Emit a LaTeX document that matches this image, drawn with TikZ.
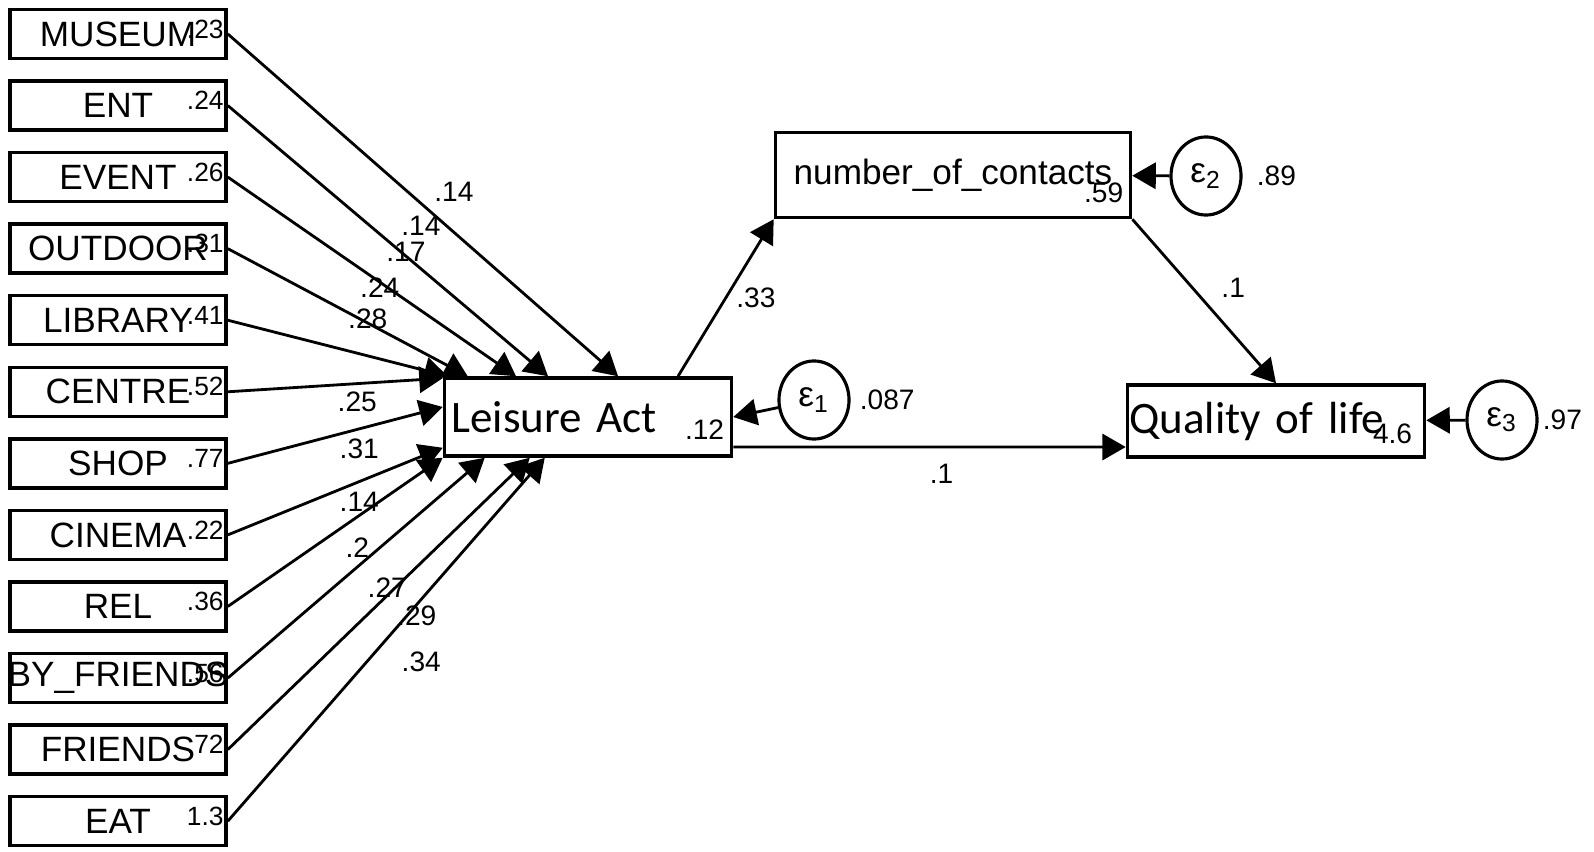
\documentclass[tikz,border=0pt]{standalone}
\usepackage{fontspec}
\setmainfont{Liberation Sans}
\newfontfamily\calfont{Carlito}
\usetikzlibrary{arrows,positioning,shapes.geometric}

\begin{document}
\begin{tikzpicture}[x=0.01cm,y=-0.01cm,>=triangle 60,node distance=0.19cm,
    obs/.style={draw,line width=1pt,rectangle,minimum width=2.16cm,minimum height=0.49cm,
                inner xsep=0pt,inner ysep=0pt,font=\fontsize{10}{12}\selectfont},
    lat/.style={draw,line width=1pt,rectangle,inner ysep=0pt,align=left,
                font=\calfont\fontsize{12.8}{14}\selectfont},
    err/.style={draw,line width=0.9pt,ellipse,minimum width=0.70cm,minimum height=0.78cm,
                inner sep=0pt,font=\fontsize{10}{12}\selectfont},
    numlab/.style={inner sep=1pt,font=\fontsize{7.5}{8}\selectfont},
    vlab/.style={inner sep=1pt,font=\fontsize{8}{9}\selectfont},
    wlab/.style={inner sep=1pt,font=\fontsize{8}{9}\selectfont,pos=0.5},
    conn/.style={->,line width=0.8pt}]

\useasboundingbox (0,0) rectangle (1594,852);

% observed leisure items
\node[obs] (museum) at (118,34) {MUSEUM};
\node[obs,below=of museum] (ent) {ENT};
\node[obs,below=of ent] (event) {EVENT};
\node[obs,below=of event] (outdoor) {OUTDOOR};
\node[obs,below=of outdoor] (library) {LIBRARY};
\node[obs,below=of library] (centre) {CENTRE};
\node[obs,below=of centre] (shop) {SHOP};
\node[obs,below=of shop] (cinema) {CINEMA};
\node[obs,below=of cinema] (rel) {REL};
\node[obs,below=of rel,inner xsep=-0.05cm] (byfriends) {BY\_FRIENDS};
\node[obs,below=of byfriends] (friends) {FRIENDS};
\node[obs,below=of friends] (eat) {EAT};

\node[numlab,anchor=east] (museumv) at ([yshift=0.05cm]museum.east) {.23};
\node[numlab,anchor=east] (entv) at ([yshift=0.05cm]ent.east) {.24};
\node[numlab,anchor=east] (eventv) at ([yshift=0.05cm]event.east) {.26};
\node[numlab,anchor=east] (outdoorv) at ([yshift=0.05cm]outdoor.east) {.31};
\node[numlab,anchor=east] (libraryv) at ([yshift=0.05cm]library.east) {.41};
\node[numlab,anchor=east] (centrev) at ([yshift=0.05cm]centre.east) {.52};
\node[numlab,anchor=east] (shopv) at ([yshift=0.05cm]shop.east) {.77};
\node[numlab,anchor=east] (cinemav) at ([yshift=0.05cm]cinema.east) {.22};
\node[numlab,anchor=east] (relv) at ([yshift=0.05cm]rel.east) {.36};
\node[numlab,anchor=east] (byfriendsv) at ([yshift=0.05cm]byfriends.east) {.56};
\node[numlab,anchor=east] (friendsv) at ([yshift=0.05cm]friends.east) {.72};
\node[numlab,anchor=east] (eatv) at ([yshift=0.05cm]eat.east) {1.3};

% latent part
\node[lat,text width=2.73cm,inner xsep=0.07cm,minimum height=0.78cm] (leis) at (588,417) {Leisure Act};
\node[vlab,anchor=east] (leisv) at ([xshift=-0.05cm,yshift=-0.13cm]leis.east) {.12};
\node[draw,line width=1pt,minimum width=3.55cm,minimum height=0.85cm,font=\fontsize{10}{12}\selectfont] (nc) at (953,175) {number\_of\_contacts};
\node[vlab,anchor=east] (ncv) at ([xshift=-0.05cm,yshift=-0.18cm]nc.east) {.59};
\node[lat,text width=2.93cm,inner xsep=0.02cm,minimum height=0.72cm] (qol) at (1276,421) {Quality of life};
\node[vlab,anchor=east] (qolv) at ([xshift=-0.1cm,yshift=-0.13cm]qol.east) {4.6};

\node[err] (e1) at (814,400) {ε\textsubscript{1}};
\node[err] (e2) at (1206,176) {ε\textsubscript{2}};
\node[err] (e3) at (1502,420) {ε\textsubscript{3}};
\node[vlab,right=0.05cm of e1] (e1v) {.087};
\node[vlab,right=0.1cm of e2] (e2v) {.89};
\node[vlab,right=0cm of e3] (e3v) {.97};

% paths into Leisure Act
\draw[conn] (museum.east) -- ([xshift=0.3cm]leis.north) node[wlab,xshift=0.31cm,yshift=0.13cm] (w1) {.14};
\draw[conn] (ent.east) -- ([xshift=-0.4cm]leis.north) node[wlab,xshift=0.33cm,yshift=0.15cm] (w2) {.14};
\draw[conn] (event.east) -- ([xshift=-0.72cm]leis.north) node[wlab,xshift=0.34cm,yshift=0.25cm] (w3) {.17};
\draw[conn] (outdoor.east) -- ([xshift=0.25cm]leis.north west) node[wlab,xshift=0.32cm,yshift=0.25cm] (w4) {.24};
\draw[conn] (library.east) -- ([xshift=0.05cm]leis.north west) node[wlab,xshift=0.30cm,yshift=0.29cm] (w5) {.28};
\draw[conn] (centre.east) -- ([yshift=-0.02cm]leis.north west) node[wlab,xshift=0.22cm,yshift=-0.17cm] (w6) {.25};
\draw[conn] (shop.east) -- ([yshift=0.1cm]leis.west) node[wlab,xshift=0.24cm,yshift=-0.14cm] (w7) {.31};
\draw[conn] (cinema.east) -- ([yshift=0.1cm]leis.south west) node[wlab,xshift=0.24cm,yshift=-0.10cm] (w8) {.14};
\draw[conn] (rel.east) -- (leis.south west) node[wlab,xshift=0.22cm,yshift=-0.16cm] (w9) {.2};
\draw[conn] (byfriends.east) -- ([xshift=0.42cm]leis.south west) node[wlab,xshift=0.31cm,yshift=-0.20cm] (w10) {.27};
\draw[conn] (friends.east) -- ([xshift=0.87cm]leis.south west) node[wlab,xshift=0.38cm,yshift=-0.12cm] (w11) {.29};
\draw[conn] (eat.east) -- ([xshift=1.02cm]leis.south west) node[wlab,xshift=0.35cm,yshift=-0.22cm] (w12) {.34};

% structural paths
\draw[conn] ([xshift=0.9cm]leis.north) -- (nc.south west) node[wlab,xshift=0.30cm] (w13) {.33};
\draw[conn] ([yshift=-0.3cm]leis.east) -- ([yshift=-0.26cm]qol.west) node[wlab,xshift=0.12cm,yshift=-0.27cm] (w14) {.1};
\draw[conn] (nc.south east) -- (qol.north) node[wlab,xshift=0.29cm,yshift=0.13cm] (w15) {.1};
\draw[conn] (e1) -- (leis.east);
\draw[conn] (e2) -- (nc);
\draw[conn] (e3) -- (qol);

\end{tikzpicture}
\end{document}
